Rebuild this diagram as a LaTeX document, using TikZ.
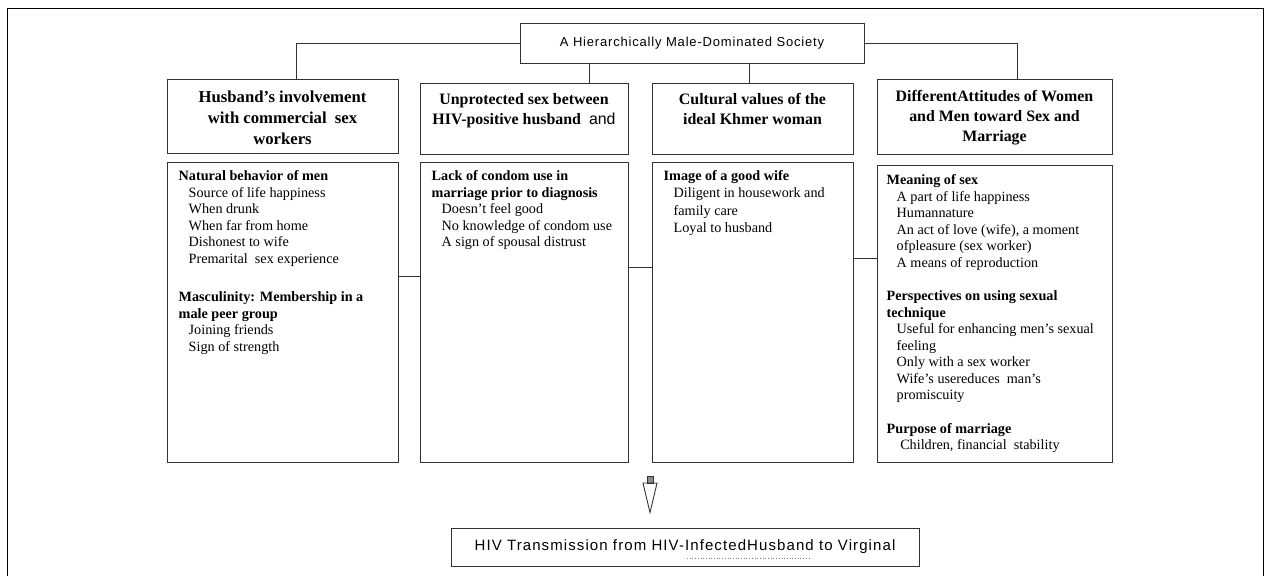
\documentclass[tikz,border=0pt]{standalone}
\usepackage{fontspec}
\setmainfont{Liberation Serif}
\setsansfont{Liberation Sans}
\newfontfamily\topsans[LetterSpace=6.3]{Liberation Sans}
\newfontfamily\outsans[LetterSpace=7.3]{Liberation Sans}
\usetikzlibrary{positioning}
\usetikzlibrary{arrows.meta}

\tikzset{
  boxnode/.style={draw=black!80, line width=1pt, inner sep=0pt},
  headtext/.style={inner sep=0pt, align=center, font=\bfseries\fontsize{15.9}{20}\selectfont},
  bodytext/.style={inner sep=0pt, align=left, font=\fontsize{14.2}{16.5}\selectfont},
  link/.style={draw=black!80, line width=0.9pt},
}
\newcommand{\itm}{\hspace*{10pt}}

\begin{document}
\begin{tikzpicture}[x=1pt,y=-1pt]
\useasboundingbox (0,0) rectangle (1269,576);
\draw [line width=1pt] (7,576) -- (7,8) -- (1263,8) -- (1263,576);

% society on top
\node [boxnode, minimum width=344pt, minimum height=40pt, font=\topsans\fontsize{13}{15}\selectfont] (top) at (692,43) {A Hierarchically Male-Dominated Society};

% four factors
\node [boxnode, minimum width=231pt, minimum height=74pt] (h1) at (282.5,116) {};
\node [boxnode, minimum width=208pt, minimum height=71pt] (h2) at (524,118.5) {};
\node [boxnode, minimum width=201pt, minimum height=71pt] (h3) at (752.5,118.5) {};
\node [boxnode, minimum width=235pt, minimum height=75pt] (h4) at (994.5,116.5) {};

\node [headtext, font=\bfseries\fontsize{16.7}{21}\selectfont, below=12pt, at=(h1.north)] (h1t) {Husband’s involvement\\ with commercial\ \ sex\\ workers};
\node [headtext, below=11pt, at=(h2.north)] (h2t) {Unprotected sex between\\ HIV-positive husband\ \ {\normalfont\sffamily and}};
\node [headtext, below=11pt, at=(h3.north)] (h3t) {Cultural values of the\\ ideal Khmer woman};
\node [headtext, below=12pt, at=(h4.north)] (h4t) {DifferentAttitudes of Women\\ and Men toward Sex and\\ Marriage};

% details
\node [boxnode, minimum width=231pt, minimum height=300pt] (b1) at (282.5,312) {};
\node [boxnode, minimum width=208pt, minimum height=300pt] (b2) at (524,312) {};
\node [boxnode, minimum width=201pt, minimum height=300pt] (b3) at (752.5,312) {};
\node [boxnode, minimum width=235pt, minimum height=297pt] (b4) at (994.5,313.5) {};

\node [bodytext, below right=9pt and 12pt, at=(b1.north west)] (b1t) {\textbf{Natural behavior of men}\\
\itm Source of life happiness\\
\itm When drunk\\
\itm When far from home\\
\itm Dishonest to wife\\
\itm Premarital\ \ sex experience\\[22pt]
\textbf{Masculinity: Membership in a}\\
\textbf{male peer group}\\
\itm Joining friends\\
\itm Sign of strength};
\node [bodytext, below right=9pt and 12pt, at=(b2.north west)] (b2t) {\textbf{Lack of condom use in}\\
\textbf{marriage prior to diagnosis}\\
\itm Doesn’t feel good\\
\itm No knowledge of condom use\\
\itm A sign of spousal distrust};
\node [bodytext, font=\fontsize{14.2}{17.2}\selectfont, below right=9pt and 12pt, at=(b3.north west)] (b3t) {\textbf{Image of a good wife}\\
\itm Diligent in housework and\\
\itm family care\\
\itm Loyal to husband};
\node [bodytext, below right=10pt and 10pt, at=(b4.north west)] (b4t) {\textbf{Meaning of sex}\\
\itm A part of life happiness\\
\itm Humannature\\
\itm An act of love (wife), a moment\\
\itm ofpleasure (sex worker)\\
\itm A means of reproduction\\[17pt]
\textbf{Perspectives on using sexual}\\
\textbf{technique}\\
\itm Useful for enhancing men’s sexual\\
\itm feeling\\
\itm Only with a sex worker\\
\itm Wife’s usereduces\ \ man’s\\
\itm promiscuity\\[17pt]
\textbf{Purpose of marriage}\\
\itm\ Children,\ financial\ \ stability};

% outcome
\node [boxnode, minimum width=468pt, minimum height=38pt, font=\outsans\fontsize{15}{17}\selectfont] (out) at (685,547) {HIV Transmission from HIV-InfectedHusband to Virginal};
\node [draw=black!80, fill=black!45, line width=0.8pt, minimum width=6pt, minimum height=7pt, inner sep=0pt, anchor=north] (stub) at (650,476) {};

\draw [link] (top.west) -| ([xshift=13.5pt]h1.north);
\draw [link] ([xshift=-103pt]top.south) -- ([xshift=-103pt]top.south |- h2.north);
\draw [link] ([xshift=57pt]top.south) -- ([xshift=57pt]top.south |- h3.north);
\draw [link] (top.east) -| ([xshift=22.5pt]h4.north);

\draw [link] ([yshift=36pt]b1.east) -- ([yshift=36pt]b1.east -| b2.west);
\draw [link] ([yshift=45pt]b2.east) -- ([yshift=45pt]b2.east -| b3.west);
\draw [link] ([yshift=54pt]b3.east) -- ([yshift=54pt]b3.east -| b4.west);

\draw [link, shorten >=13pt, -{Triangle[open, length=32pt, width=15pt]}] (stub.south) -- (stub.south |- out.north);
\draw [dotted, black!50, line width=0.7pt] (687,558) -- (811,558);
\end{tikzpicture}
\end{document}
